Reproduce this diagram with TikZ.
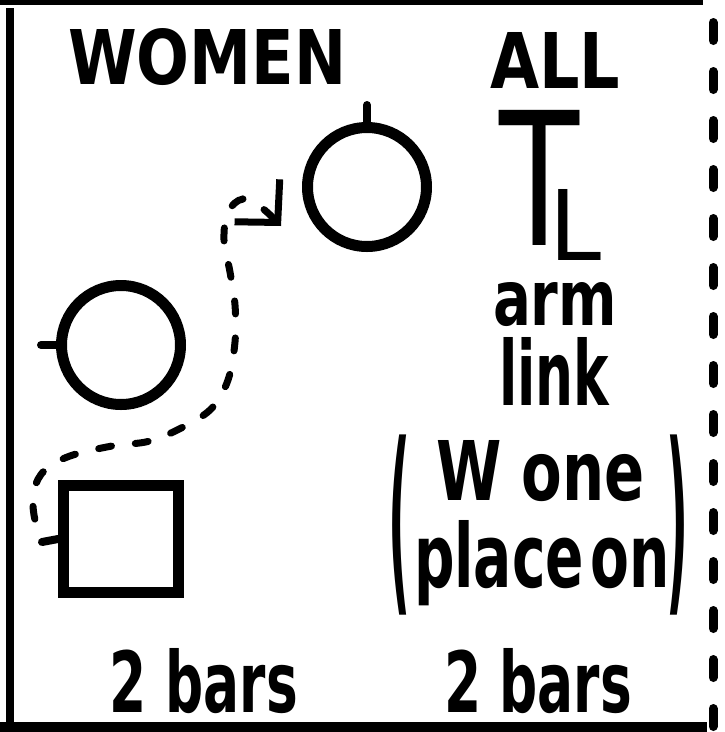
\documentclass[tikz,border=0pt]{standalone}
\usepackage{fontspec}
\setmainfont{DejaVu Sans}
\usetikzlibrary{arrows.meta}
\begin{document}
\begin{tikzpicture}[x=1pt,y=-1pt,
  lbl/.style={inner sep=0pt, outer sep=0pt, anchor=base west, font=\bfseries},
  thin lbl/.style={inner sep=0pt, outer sep=0pt, anchor=base west, font=\mdseries},
  paren/.style={inner sep=0pt, outer sep=0pt, anchor=north west, font=\bfseries},
  ring/.style={circle, draw, line width=11pt, minimum size=119pt, inner sep=0pt},
  box/.style={rectangle, draw, line width=11pt, minimum width=115pt, minimum height=107pt, inner sep=0pt},
  pin/.style={line width=8pt, line cap=round},
  trail/.style={line width=7pt, line cap=round, dash pattern=on 13pt off 24pt, dash phase=13pt,
    -{Straight Barb[length=30pt, width=62pt, line width=7pt]}}]
\useasboundingbox (0,0) rectangle (725,732);
% frame
\draw[line width=5pt] (0,2) -- (703,2);
\draw[line width=8pt] (10,8) -- (10,732);
\draw[line width=10pt] (0,727) -- (707,727);
\draw[line width=9pt, line cap=round, dash pattern=on 18pt off 31pt] (713,22.5) -- (713,732);
% headings
\node[lbl] (women) at (68,84) {\resizebox{278pt}{56pt}{WOMEN}};
\node[lbl] (all) at (490,88) {\resizebox{130pt}{56pt}{ALL}};
\node[thin lbl] (TL) at (499,245) {\resizebox{80pt}{135pt}{T}\hspace{-30pt}\raisebox{-15pt}{\resizebox{52pt}{71pt}{L}}};
\node[lbl] (arm) at (493,325) {\resizebox{124pt}{43pt}{arm}};
\node[lbl] (link) at (499,405) {\resizebox{110pt}{68pt}{link}};
\node[lbl] (wone) at (436,500) {\resizebox{209pt}{60pt}{W one}};
\node[lbl] (place) at (414,587) {\resizebox{256pt}{67pt}{place\hspace{0.12em}on}};
\node[paren] (lp) at (388,435) {\resizebox*{22pt}{180pt}{(}};
\node[paren] (rp) at (666,435) {\resizebox*{22pt}{180pt}{)}};
\node[lbl] (bars1) at (110,712) {\resizebox{188pt}{64pt}{2 bars}};
\node[lbl] (bars2) at (444,712) {\resizebox{188pt}{64pt}{2 bars}};
% shapes
\node[ring] (c1) at (367,187) {};
\node[ring] (c2) at (121,345) {};
\node[box] (sq) at (121,539) {};
\draw[pin] (c1.north) -- ++(0,-17);
\draw[pin] (c2.west) -- ++(-15,0);
\draw[pin] (sq.west) -- ++(-16,3) coordinate (sqpin);
% dashed trail with arrow
\coordinate (tip) at (281,226);
\draw[trail] plot[smooth, tension=0.6] coordinates {(sqpin) (34,515) (34,490) (45,470) (70,456) (112,446) (150,441) (185,426) (212,408) (228,380) (235,342) (235,305) (230,272) (224,240) (228,212) (243,199) (262,208) (tip)};
\end{tikzpicture}
\end{document}
